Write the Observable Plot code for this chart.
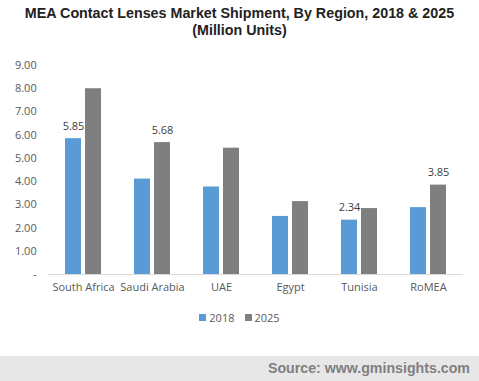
<!DOCTYPE html>
<html>
<head>
<meta charset="utf-8">
<script src="https://cdn.jsdelivr.net/npm/d3@7"></script>
<script src="https://cdn.jsdelivr.net/npm/@observablehq/plot@0.6"></script>
<style>
  html, body { margin: 0; padding: 0; background: #fff; }
  body { width: 479px; height: 381px; position: relative; overflow: hidden; font-family: "Open Sans", sans-serif; }
  #title { height: 44px; box-sizing: border-box; padding-top: 5px; text-align: center; font: bold 14.3px/17px "Liberation Sans", Arial, sans-serif; color: #222; }
  #chart svg { display: block; }
  #legend { margin-top: 10px; height: 14px; display: flex; justify-content: center; align-items: center; font-size: 11px; color: #595959; }
  #legend .sw { width: 7px; height: 7px; display: inline-block; margin-right: 3px; }
  #legend .item { display: flex; align-items: center; margin: 0 5px; }
  #source { position: absolute; left: 0; top: 356px; width: 479px; height: 25px; background: #e7e7e7; box-sizing: border-box; padding-right: 9px; text-align: right; font: bold 14.2px/25px "Liberation Sans", Arial, sans-serif; color: #7f7f7f; }
</style>
</head>
<body>
<div id="title">MEA Contact Lenses Market Shipment, By Region, 2018 &amp; 2025<br>(Million Units)</div>
<div id="chart"></div>
<div id="legend"></div>
<div id="source">Source: www.gminsights.com</div>
<script>
const regions = ["South Africa", "Saudi Arabia", "UAE", "Egypt", "Tunisia", "RoMEA"];
const years = ["2018", "2025"];
const values2018 = [5.85, 4.11, 3.77, 2.50, 2.34, 2.88];
const values2025 = [8.00, 5.68, 5.44, 3.14, 2.84, 3.85];
const colors = ["#5B9BD5", "#7F7F7F"];
const yTicks = [0, 1, 2, 3, 4, 5, 6, 7, 8, 9];
const labelled = [["South Africa", "2018"], ["Saudi Arabia", "2025"], ["Tunisia", "2018"], ["RoMEA", "2025"]];

const rows = [];
regions.forEach((r, i) => {
  rows.push({region: r, year: "2018", value: values2018[i]});
  rows.push({region: r, year: "2025", value: values2025[i]});
});
const labelRows = rows.filter(d => labelled.some(([r, y]) => r === d.region && y === d.year));

const width = 479, marginLeft = 46, marginRight = 15;
const fxPad = 0.483;
const step = (width - marginLeft - marginRight) / regions.length;
const band = step * (1 - fxPad);
const outerGap = (step - band) / 2;

const chart = Plot.plot({
  width,
  height: 256,
  marginLeft,
  marginRight,
  marginTop: 21,
  marginBottom: 26,
  style: {fontFamily: "'Open Sans', sans-serif", fontSize: "11px", color: "#595959", background: "transparent"},
  fx: {domain: regions, paddingInner: fxPad, paddingOuter: fxPad / 2},
  x: {domain: years, paddingInner: 0.2, paddingOuter: 0, axis: null},
  y: {domain: [0, 9], axis: null},
  color: {domain: years, range: colors},
  marks: [
    Plot.axisY({ticks: yTicks, tickSize: 0, tickPadding: 12 + outerGap, label: null,
      tickFormat: d => d === 0 ? "-" : d.toFixed(2), fill: "#595959"}),
    Plot.axisFx({anchor: "bottom", tickSize: 0, tickPadding: 9, label: null, fill: "#595959"}),
    Plot.barY(rows, {fx: "region", x: "year", y: "value", fill: "year"}),
    Plot.ruleY([0], {stroke: "#d9d9d9", strokeWidth: 1, insetLeft: -outerGap, insetRight: -outerGap}),
    Plot.text(labelRows, {fx: "region", x: "year", y: "value", text: d => d.value.toFixed(2), dy: -12.5, fill: "#404040", fontSize: 11})
  ]
});
document.getElementById("chart").appendChild(chart);

const legend = document.getElementById("legend");
years.forEach((y, i) => {
  const item = document.createElement("span");
  item.className = "item";
  const sw = document.createElement("span");
  sw.className = "sw";
  sw.style.background = colors[i];
  item.appendChild(sw);
  item.appendChild(document.createTextNode(y));
  legend.appendChild(item);
});
</script>
</body>
</html>
